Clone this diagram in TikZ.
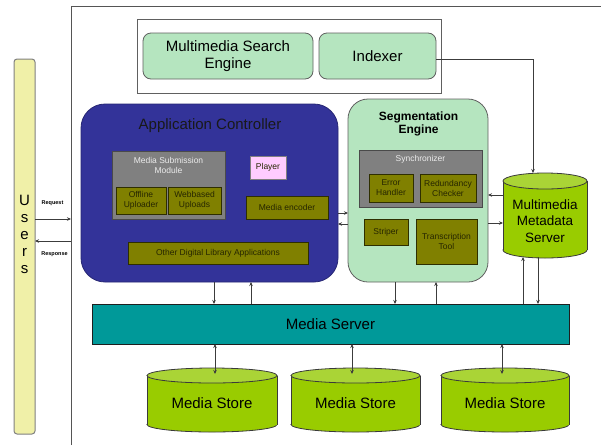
\documentclass[tikz,border=0pt]{standalone}
\usepackage{fontspec}
\setmainfont{Liberation Sans}
\usetikzlibrary{arrows.meta}
\definecolor{usersfill}{HTML}{F0F0A8}
\definecolor{usersbd}{HTML}{808080}
\definecolor{acfill}{HTML}{333399}
\definecolor{acbd}{HTML}{262673}
\definecolor{greenfill}{HTML}{B5E5BF}
\definecolor{greenbd}{HTML}{606060}
\definecolor{grayfill}{HTML}{808080}
\definecolor{graybd}{HTML}{4A4A4A}
\definecolor{olivefill}{HTML}{808000}
\definecolor{olivebd}{HTML}{2E2E00}
\definecolor{oltext}{HTML}{262600}
\definecolor{pinkfill}{HTML}{FFCCFF}
\definecolor{cylbody}{HTML}{99CC00}
\definecolor{cyltop}{HTML}{AAD436}
\definecolor{cylbd}{HTML}{3A3A3A}
\definecolor{serverfill}{HTML}{009999}
\definecolor{serverbd}{HTML}{1E1E1E}
\definecolor{arrcol}{HTML}{3C3C3C}
\definecolor{framecol}{HTML}{555555}
\newcommand\drawcyl[5]{%
  \pgfmathsetmacro\cylcx{(#1+#2)/2}%
  \pgfmathsetmacro\cylrx{(#2-#1)/2}%
  \filldraw[fill=cylbody, draw=cylbd, line width=0.8pt] (\cylcx,#4-#5) ellipse [x radius=\cylrx pt, y radius=#5pt];
  \fill[cylbody] (#1,#3+#5) rectangle (#2,#4-#5);
  \draw[cylbd, line width=0.8pt] (#1,#3+#5) -- (#1,#4-#5) (#2,#3+#5) -- (#2,#4-#5);
  \filldraw[fill=cyltop, draw=cylbd, line width=0.8pt] (\cylcx,#3+#5) ellipse [x radius=\cylrx pt, y radius=#5pt];
}
\begin{document}
\begin{tikzpicture}[x=1pt,y=-1pt,
  every node/.style={inner sep=0pt, outer sep=0pt},
  dim/.style 2 args={minimum width=#1pt, minimum height=#2pt},
  small/.style={font=\fontsize{8.5}{10}\selectfont, align=center},
  olivebox/.style={draw=olivebd, fill=olivefill, line width=0.8pt, small, text=oltext},
  graybox/.style={draw=graybd, fill=grayfill, line width=0.8pt},
  greenbox/.style={draw=greenbd, fill=greenfill, rounded corners=8pt, line width=0.8pt, font=\fontsize{15}{17}\selectfont, align=center},
  big/.style={font=\fontsize{15}{17}\selectfont, align=center},
  arr/.style={draw=arrcol, line width=0.7pt, -{Stealth[length=4pt,width=3.5pt]}},
  darr/.style={draw=arrcol, line width=0.7pt, {Stealth[length=4pt,width=3.5pt]}-{Stealth[length=4pt,width=3.5pt]}},
]
\useasboundingbox (0,0) rectangle (601,445);
% outer frame
\draw[framecol, line width=0.8pt] (71,445) -- (71,6) -- (601,6);

% users
\node[draw=usersbd, fill=usersfill, rounded corners=3pt, dim={21}{375}, line width=1pt] (users) at (24.5,246.5) {};
\node[big] (userstext) at (24.5,234) {U\\s\\e\\r\\s};

% top box
\node[draw=greenbd, fill=white, dim={304}{74}, line width=0.8pt] (topbox) at (289,56) {};
\node[greenbox, dim={170}{46}] (mse) at (228,56) {Multimedia Search\\Engine};
\node[greenbox, dim={117}{46}] (indexer) at (377.5,56) {Indexer};

% application controller
\node[draw=acbd, fill=acfill, rounded corners=24pt, dim={257}{178}, line width=0.8pt] (appctrl) at (209.5,193) {};
\node[big, text=black!90] (actitle) at (210,126) {Application Controller};
\node[graybox, dim={113}{68}] (msm) at (168.5,185) {};
\node[small, text=white!92!black] (msmtitle) at (168.5,165) {Media Submission\\Module};
\node[olivebox, dim={50}{27}] (offline) at (141,200.5) {Offline\\Uploader};
\node[olivebox, dim={53}{27}] (webbased) at (194.5,200.5) {Webbased\\Uploads};
\node[draw=usersbd, fill=pinkfill, line width=0.8pt, dim={36}{23}, small, text=oltext] (player) at (268,167.5) {Player};
\node[olivebox, dim={82}{23}] (encoder) at (287,207.5) {Media encoder};
\node[olivebox, dim={180}{22}] (otherapps) at (218,253) {Other Digital Library Applications};

% segmentation engine
\node[draw=greenbd, fill=greenfill, rounded corners=20pt, dim={140}{183}, line width=0.8pt] (seg) at (418,190.5) {};
\node[font=\bfseries\fontsize{12}{13.5}\selectfont, align=center] (segtitle) at (418.5,124) {Segmentation\\Engine};
\node[graybox, dim={123}{57}] (sync) at (420.5,178.5) {};
\node[small, text=white!92!black] (synctitle) at (420.5,159) {Synchronizer};
\node[olivebox, dim={44}{28}] (errh) at (391,188) {Error\\Handler};
\node[olivebox, dim={56}{28}] (redund) at (448,188) {Redundancy\\Checker};
\node[olivebox, dim={44}{26}] (striper) at (386,232) {Striper};
\node[olivebox, dim={61}{45}] (transc) at (446.5,241.5) {Transcription\\Tool};

% metadata server
\drawcyl{503}{587}{173}{258}{8}
\node[dim={84}{85}] (mdserver) at (545,215.5) {};
\node[font=\fontsize{13.5}{16.5}\selectfont, align=center] (mdtext) at (545,221) {Multimedia\\Metadata\\Server};

% media server
\node[draw=serverbd, fill=serverfill, dim={477}{40}, line width=0.8pt, big] (server) at (330.5,324) {Media Server};

% media stores
\drawcyl{147}{277}{368}{432}{7.5}
\drawcyl{291}{420}{368}{432}{7.5}
\drawcyl{441}{569}{368}{432}{7.5}
\node[dim={130}{64}, big] (ms1) at (212,403) {Media Store};
\node[dim={129}{64}, big] (ms2) at (355.5,403) {Media Store};
\node[dim={128}{64}, big] (ms3) at (505,403) {Media Store};

% helper coordinates
\coordinate (req) at (71,219);
\coordinate (resp) at (71,241);
\coordinate (y213) at (0,213);
\coordinate (y224) at (0,224);
\coordinate (y195) at (0,195);
\coordinate (y223) at (0,223);
\coordinate (x214) at (214,0);
\coordinate (x251) at (251,0);
\coordinate (x395) at (395,0);
\coordinate (x436) at (436,0);
\coordinate (x523) at (523,0);
\coordinate (x538) at (538,0);
\coordinate (x533) at (533,0);
\coordinate (x215) at (215,0);
\coordinate (x352) at (352,0);
\coordinate (x502) at (502,0);

% users arrows
\draw[arr] (users.east |- req) -- (req);
\draw[arr] (resp) -- (users.east |- resp);
\node[font=\bfseries\fontsize{5.5}{6}\selectfont] (reqlbl) at (52.5,203) {Request};
\node[font=\bfseries\fontsize{5.5}{6}\selectfont] (resplbl) at (54.5,254) {Response};

% indexer to metadata
\draw[arr] ([yshift=-3pt]indexer.east) -| (mdserver.north -| x533);

% app controller <-> segmentation
\draw[arr] (appctrl.east |- y213) -- (seg.west |- y213);
\draw[arr] (seg.west |- y224) -- (appctrl.east |- y224);
% metadata <-> segmentation
\draw[arr] (mdserver.west |- y195) -- (seg.east |- y195);
\draw[arr] (seg.east |- y223) -- (mdserver.west |- y223);

% to/from media server
\draw[arr] (appctrl.south -| x214) -- (server.north -| x214);
\draw[arr] (server.north -| x251) -- (appctrl.south -| x251);
\draw[arr] (seg.south -| x395) -- (server.north -| x395);
\draw[arr] (server.north -| x436) -- (seg.south -| x436);
\draw[arr] (server.north -| x523) -- ([yshift=1pt]mdserver.south -| x523);
\draw[arr] ([yshift=1pt]mdserver.south -| x538) -- (server.north -| x538);

% media server <-> stores
\draw[darr] (server.south -| x215) -- ([yshift=-3pt]ms1.north -| x215);
\draw[darr] (server.south -| x352) -- ([yshift=-3pt]ms2.north -| x352);
\draw[darr] (server.south -| x502) -- ([yshift=-3pt]ms3.north -| x502);
\end{tikzpicture}
\end{document}
